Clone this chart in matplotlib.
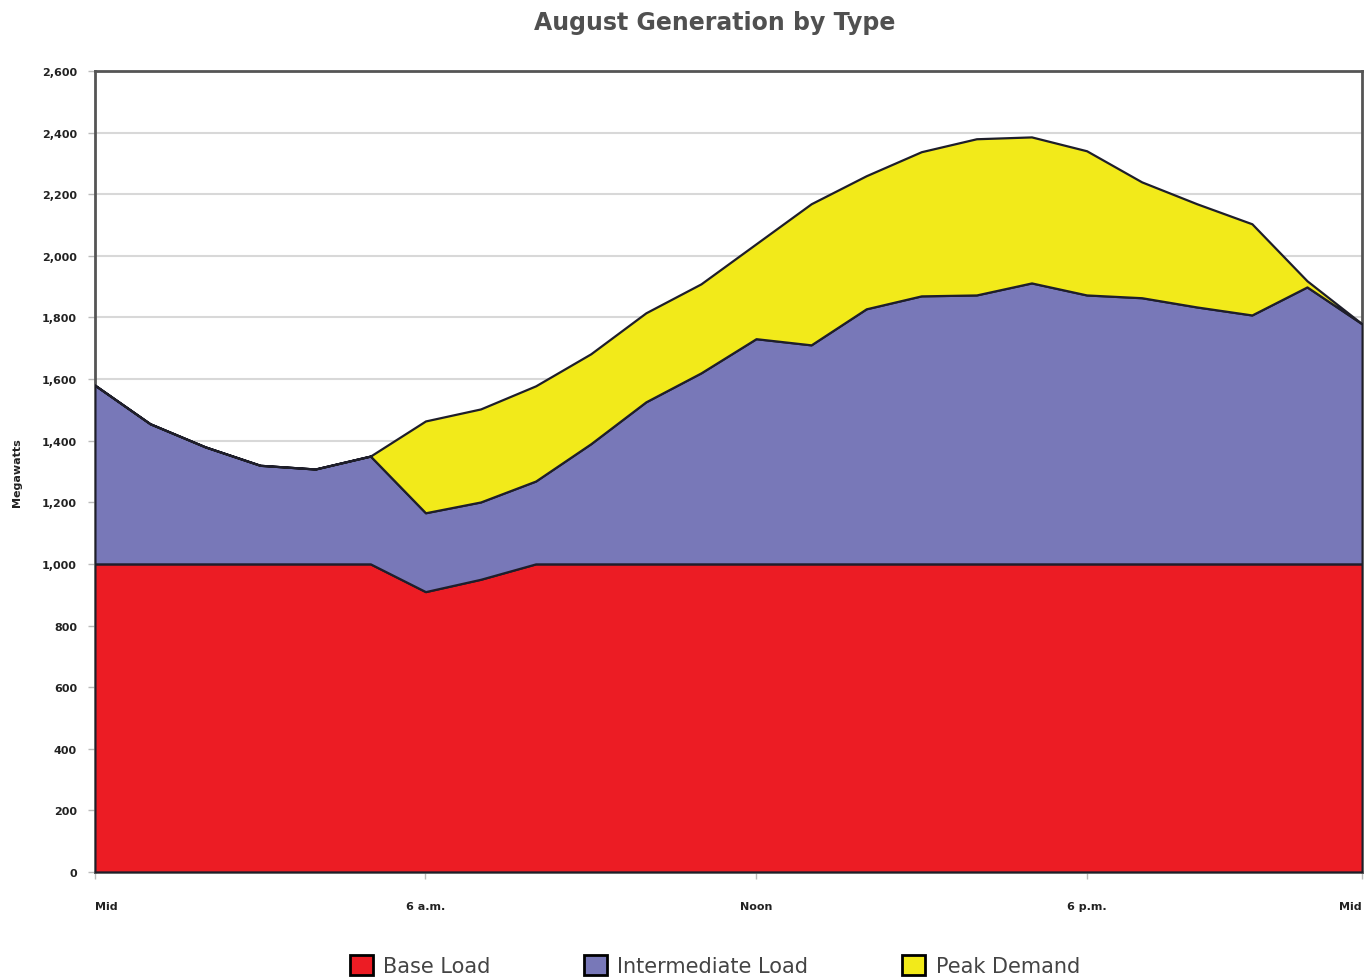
import numpy as np
import matplotlib.pyplot as plt

# hourly values, Mid (0) through 11 p.m. (23)
hours = list(range(24))
base_load = [1000, 1000, 1000, 1000, 1000, 1000, 910, 950, 1000, 1000, 1000, 1000,
             1000, 1000, 1000, 1000, 1000, 1000, 1000, 1000, 1000, 1000, 1000, 1000]
intermediate_load = [580, 455, 380, 320, 308, 350, 256, 251, 269, 390, 526, 620,
                     731, 711, 828, 870, 873, 912, 873, 864, 834, 808, 899, 779]
peak_demand = [0, 0, 0, 0, 0, 0, 298, 302, 309, 292, 289, 289,
               308, 458, 432, 468, 507, 474, 468, 376, 335, 296, 20, 0]

tick_hours = [0, 6, 12, 18, 23]
tick_labels = ["Mid", "6 a.m.", "Noon", "6 p.m.", "Mid"]
series_names = ["Base Load", "Intermediate Load", "Peak Demand"]
colors = ["#ec1c24", "#7878b8", "#f2ea1a"]

fig = plt.figure(figsize=(13.64, 9.78), dpi=100)
ax = fig.add_axes([0.0696, 0.1074, 0.929, 0.819])

polys = ax.stackplot(hours, base_load, intermediate_load, peak_demand,
                     colors=colors, labels=series_names,
                     edgecolor="#1e1e2a", linewidth=1.6, zorder=3)

ax.set_xlim(0, 23)
ax.set_ylim(0, 2600)
ax.set_yticks(np.arange(0, 2601, 200))
ax.set_yticklabels([f"{v:,}" for v in range(0, 2601, 200)],
                   fontsize=8, fontweight="bold", color="#222222")
ax.set_xticks(tick_hours)
ax.set_xticklabels(tick_labels, fontsize=8, fontweight="bold", color="#222222")
ax.get_xticklabels()[0].set_ha("left")
ax.get_xticklabels()[-1].set_ha("right")
ax.tick_params(axis="both", length=5, width=1, color="#bbbbbb")
ax.tick_params(axis="x", pad=16)
ax.tick_params(axis="y", pad=8)
ax.grid(axis="y", color="#d8d8d8", linewidth=1.5, zorder=0)
ax.set_axisbelow(True)
for s in ax.spines.values():
    s.set_color("#555555")
    s.set_linewidth(2)

ax.set_ylabel("Megawatts", fontsize=8, fontweight="bold", color="#222222", labelpad=14)

fig.text(0.524, 0.976, "August Generation by Type", ha="center", va="center",
         fontsize=17, fontweight="bold", color="#505050")

leg = fig.legend(handles=polys, labels=series_names, loc="lower center",
                 bbox_to_anchor=(0.524, -0.018), ncol=3, frameon=False,
                 handlelength=1.1, handleheight=1.1,
                 columnspacing=4.5, handletextpad=0.5,
                 prop={"size": 15})
for h in leg.legend_handles:
    h.set_edgecolor("black")
    h.set_linewidth(2)
for t in leg.get_texts():
    t.set_color("#444444")

fig.savefig("out.png", dpi=100, facecolor="white")
